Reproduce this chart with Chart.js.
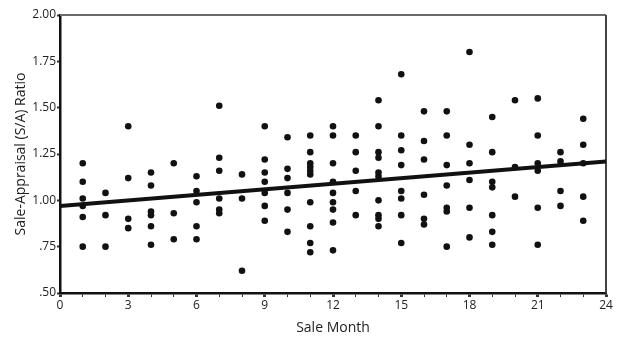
<!DOCTYPE html>
<html>
<head>
<meta charset="utf-8">
<script src="https://cdn.jsdelivr.net/npm/chart.js@4"></script>
<style>
  body { margin: 0; background: #fff; }
</style>
</head>
<body>
<canvas id="chart" width="618" height="343"></canvas>
<script>
// sale month of each observation and its sale/appraisal ratio
var saleMonth = [
  1,1,1,1,1,1,
  2,2,2,
  3,3,3,3,
  4,4,4,4,4,4,
  5,5,5,
  6,6,6,6,6,
  7,7,7,7,7,7,
  8,8,8,
  9,9,9,9,9,9,9,
  10,10,10,10,10,10,
  11,11,11,11,11,11,11,11,11,11,
  12,12,12,12,12,12,12,12,12,
  13,13,13,13,13,
  14,14,14,14,14,14,14,14,14,14,
  15,15,15,15,15,15,15,15,
  16,16,16,16,16,16,
  17,17,17,17,17,17,17,
  18,18,18,18,18,18,
  19,19,19,19,19,19,19,
  20,20,20,
  21,21,21,21,21,21,
  22,22,22,22,
  23,23,23,23,23
];
var saRatio = [
  1.20,1.10,1.01,0.97,0.91,0.75,
  1.04,0.92,0.75,
  1.40,1.12,0.90,0.85,
  1.15,1.08,0.94,0.92,0.86,0.76,
  1.20,0.93,0.79,
  1.13,1.05,0.99,0.86,0.79,
  1.51,1.23,1.16,1.01,0.95,0.93,
  1.14,1.01,0.62,
  1.40,1.22,1.15,1.10,1.04,0.97,0.89,
  1.34,1.17,1.12,1.04,0.95,0.83,
  1.35,1.26,1.20,1.18,1.16,1.14,0.99,0.86,0.77,0.72,
  1.40,1.35,1.20,1.10,1.04,0.99,0.95,0.88,0.73,
  1.35,1.26,1.16,1.05,0.92,
  1.54,1.40,1.26,1.23,1.15,1.13,1.00,0.92,0.90,0.86,
  1.68,1.35,1.27,1.19,1.05,1.01,0.92,0.77,
  1.48,1.32,1.22,1.03,0.90,0.87,
  1.48,1.35,1.19,1.08,0.96,0.94,0.75,
  1.80,1.30,1.20,1.11,0.96,0.80,
  1.45,1.26,1.10,1.07,0.92,0.83,0.76,
  1.54,1.18,1.02,
  1.55,1.35,1.20,1.16,0.96,0.76,
  1.26,1.21,1.05,0.97,
  1.44,1.30,1.20,1.02,0.89
];
// fitted trend line end points
var trendMonth = [0, 24];
var trendRatio = [0.97, 1.21];

var points = saleMonth.map(function (m, i) { return { x: m, y: saRatio[i] }; });
var trend = trendMonth.map(function (m, i) { return { x: m, y: trendRatio[i] }; });

// thin top and right edges of the plot box
var frame = {
  id: 'frame',
  beforeDatasetsDraw: function (chart) {
    var a = chart.chartArea, c = chart.ctx;
    c.save();
    c.lineWidth = 2;
    c.strokeStyle = '#6a6a6a';
    c.beginPath();
    c.moveTo(a.left, a.top);
    c.lineTo(a.right, a.top);
    c.stroke();
    c.strokeStyle = '#444';
    c.beginPath();
    c.moveTo(a.right, a.top);
    c.lineTo(a.right, a.bottom);
    c.stroke();
    c.restore();
  }
};

var font = "'Open Sans', sans-serif";

new Chart(document.querySelector('#chart'), {
  type: 'scatter',
  data: {
    datasets: [{
      type: 'line',
      data: trend,
      borderColor: '#111',
      borderWidth: 4,
      pointRadius: 0,
      fill: false
    }, {
      data: points,
      backgroundColor: '#111',
      borderWidth: 0,
      pointRadius: 3.3
    }]
  },
  options: {
    responsive: false,
    animation: false,
    layout: { padding: { top: 15, right: 12, left: 0, bottom: 0 } },
    plugins: {
      legend: { display: false },
      tooltip: { enabled: false }
    },
    scales: {
      x: {
        type: 'linear',
        min: 0,
        max: 24,
        afterFit: function (s) { s.height = 50; },
        border: { color: '#111', width: 2.5 },
        grid: {
          drawOnChartArea: false,
          tickLength: 4,
          tickColor: '#333',
          tickWidth: function (ctx) { return ctx.tick.value % 3 === 0 ? 3 : 1; }
        },
        ticks: {
          stepSize: 1,
          autoSkip: false,
          maxRotation: 0,
          padding: 1,
          color: '#222',
          font: { family: font, size: 12 },
          callback: function (v) { return v % 3 === 0 ? v : ''; }
        },
        title: {
          display: true,
          text: 'Sale Month',
          color: '#222',
          font: { family: font, size: 14 },
          padding: { top: 7, bottom: 7 }
        }
      },
      y: {
        min: 0.5,
        max: 2.0,
        afterFit: function (s) { s.width = 60; },
        border: { color: '#111', width: 2.5 },
        grid: {
          drawOnChartArea: false,
          tickLength: 3,
          tickColor: '#333',
          tickWidth: 2
        },
        ticks: {
          stepSize: 0.25,
          padding: 1,
          color: '#222',
          font: { family: font, size: 12 },
          callback: function (v) {
            var s = v.toFixed(2);
            return v < 1 ? s.slice(1) : s;
          }
        },
        title: {
          display: true,
          text: 'Sale-Appraisal (S/A) Ratio',
          color: '#222',
          font: { family: font, size: 14 },
          padding: { top: 13, bottom: 13 }
        }
      }
    }
  },
  plugins: [frame]
});
</script>
</body>
</html>
